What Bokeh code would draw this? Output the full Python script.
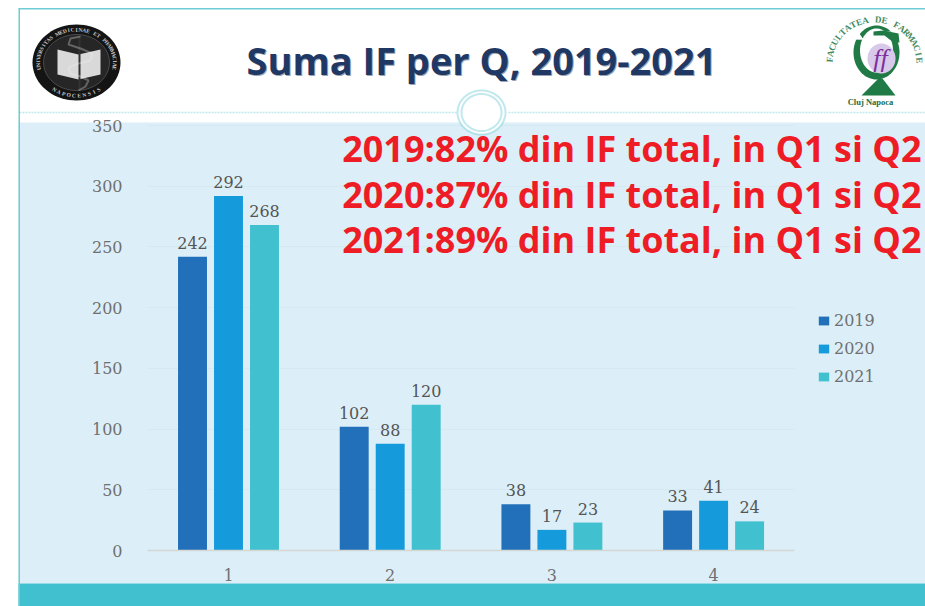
import numpy as np
from bokeh.plotting import figure
from bokeh.models import (Range1d, BoxAnnotation, PolyAnnotation, Label,
                          Legend, LegendItem, ColumnDataSource, FixedTicker)
from bokeh.core.properties import value
from bokeh.embed import file_html
from bokeh.resources import INLINE

quarters = [1, 2, 3, 4]
years = ["2019", "2020", "2021"]
v2019 = [242, 102, 38, 33]
v2020 = [292, 88, 17, 41]
v2021 = [268, 120, 23, 24]
colors = ["#2270BA", "#159BDB", "#41C0CF"]
y_ticks = [0, 50, 100, 150, 200, 250, 300, 350]
title_text = "Suma IF per Q, 2019-2021"
notes = ["2019:82% din IF total, in Q1 si Q2",
         "2020:87% din IF total, in Q1 si Q2",
         "2021:89% din IF total, in Q1 si Q2"]

W, H = 925, 606
SERIF = "DejaVu Serif"

# the plotting frame fills the whole slide, so the slide artwork can sit around the chart
ux = 161.7
uy = 425 / 350
x_start = 1 - 228 / ux
y_start = -(H - 550) / uy
p = figure(width=W, height=H, x_range=Range1d(x_start, x_start + W / ux),
           y_range=Range1d(y_start, y_start + H / uy), output_backend="svg", toolbar_location=None,
           min_border=0)
p.outline_line_color = None
p.background_fill_color = "white"
p.border_fill_color = "white"

def box(l, r, t, b, color):
    p.add_layout(BoxAnnotation(left=l, right=r, top=t, bottom=b,
                               left_units="canvas", right_units="canvas", top_units="canvas", bottom_units="canvas",
                               fill_color=color, fill_alpha=1, line_color=None, level="image"))

def poly(xs, ys, color, line=None, lw=1, level="image", dash="solid"):
    p.add_layout(PolyAnnotation(xs=list(xs), ys=list(ys), xs_units="canvas", ys_units="canvas",
                                fill_color=color, fill_alpha=1 if color else 0, line_color=line, line_width=lw,
                                line_dash=dash, level=level))

def ell(cx, cy, rx, ry, color, line=None, lw=1, level="image"):
    t = np.linspace(0, 2*np.pi, 73)
    poly(cx + rx*np.cos(t), cy + ry*np.sin(t), color, line, lw, level)

def label(x, y, text, size, color, font="Open Sans", style="normal", align="center", base="middle", angle=0):
    p.add_layout(Label(x=x, y=y, x_units="canvas", y_units="canvas", text=text, text_font=font,
                       text_font_size=f"{size}px", text_font_style=style, text_color=color,
                       text_align=align, text_baseline=base, angle=angle))

def arc_text(text, cx, cy, rx, ry, a0, a1, size, color, bottom=False):
    for i, ch in enumerate(text):
        a = np.radians(a0 + i * (a1 - a0) / (len(text) - 1))
        rot = a - np.pi / 2 if not bottom else a + np.pi / 2
        label(cx + rx * np.cos(a), cy - ry * np.sin(a), ch, size, color, "Liberation Serif", "bold", angle=rot)

# slide background
box(18, 925, 122, 583, "#DCEFF8")
box(18, 925, 583, 606, "#41C0CF")
box(18, 19.5, 8, 606, "#6FCBD6")
box(18, 925, 7.5, 9, "#6FCBD6")
for x0, x1 in [(19, 456), (508, 925)]:
    poly([x0, x1], [112, 112], None, "#2FB5C7", 1.5, dash="2 1")
ell(481, 112, 24, 22, "white", "#2FB3C4", 2, level="annotation")
ell(481, 112, 20, 18.5, "white", "#2FB3C4", 2, level="annotation")

# left logo
ell(76, 62, 44, 38, "#141414")
ell(76, 62, 33, 28, "#262626", "#B0B0B0", 1)
arc_text("UNIVERSITAS MEDICINAE ET PHARMACIAE", 76, 62, 38.5, 33, 190, -10, 5.5, "#C8C8C8")
arc_text("NAPOCENSIS", 76, 62, 38.5, 33, 235, 305, 5.5, "#C8C8C8", bottom=True)
poly([57, 78, 100, 100, 78, 57], [49, 54, 49, 74, 79, 74], "#D9D9D9")
poly([78, 80, 80, 78], [36, 36, 90, 90], "#333333")
sn_x = [80, 70, 68, 80, 92, 90, 78, 68, 70, 80, 88, 85, 78]
sn_y = [36, 38, 44, 48, 53, 60, 63, 67, 73, 76, 80, 86, 90]
poly(sn_x + sn_x[::-1], sn_y + sn_y[::-1], None, "#F2F2F2", 2)

# right logo
ell(876, 52, 23, 27, "#1F7A45")
ell(876, 50, 16.5, 22, "white")
poly([850, 850, 902, 902, 884, 863], [20, 39, 40, 31, 31, 39], "white")
poly([873, 883, 898, 899, 893, 884, 873], [31, 30, 33, 42, 42, 35, 35], "#1F7A45")
ell(881, 58, 14, 15, "#D8C9EA")
label(880, 58, "ff", 26, "#7E2F9B", "Liberation Serif", "italic")
poly([861, 895, 882, 878], [95, 95, 78, 78], "#1F7A45")
label(870, 101, "Cluj Napoca", 8.5, "#1F6B40", "Liberation Serif", "bold")
arc_text("FACULTATEA DE FARMACIE", 874, 62, 45, 43, 176, 3, 9, "#3F8A5B")

# bars
offsets = [-0.2226, 0, 0.2226]
items = []
for name, col, off, vals in zip(years, colors, offsets, [v2019, v2020, v2021]):
    src = ColumnDataSource(dict(x=[q + off for q in quarters], v=vals, t=[str(a) for a in vals]))
    r = p.vbar(x="x", top="v", width=0.179, source=src, fill_color=col, line_color=None)
    p.text(x="x", y="v", text="t", source=src, text_align="center", text_baseline="bottom", y_offset=-8,
           text_font=value(SERIF), text_font_size="16px", text_color="#555555")
    items.append(LegendItem(label=name, renderers=[r]))

# axes
LEFT, RIGHT = x_start + 147 / ux, x_start + 794 / ux
p.xaxis.fixed_location = 0
p.xaxis.bounds = (LEFT, RIGHT)
p.yaxis.fixed_location = LEFT
p.xaxis.ticker = FixedTicker(ticks=quarters)
p.yaxis.ticker = FixedTicker(ticks=y_ticks)
p.xgrid.grid_line_color = None
p.ygrid.ticker = FixedTicker(ticks=y_ticks)
p.ygrid.cross_bounds = (LEFT, RIGHT)
p.ygrid.grid_line_color = "#D6E8F0"
p.yaxis.axis_line_color = None
p.yaxis.major_tick_line_color = None
p.yaxis.minor_tick_line_color = None
p.xaxis.major_tick_line_color = None
p.xaxis.minor_tick_line_color = None
p.xaxis.axis_line_color = "#D4D6D2"
p.xaxis.axis_line_width = 1.5
for ax in (p.xaxis, p.yaxis):
    ax.major_label_text_font = SERIF
    ax.major_label_text_font_size = "16px"
    ax.major_label_text_color = "#707070"
p.yaxis.major_label_standoff = 18
p.yaxis.major_label_standoff = 19
p.xaxis.major_label_standoff = 12

legend = Legend(items=items, location=(817, 220), background_fill_alpha=0, border_line_color=None,
                glyph_width=13, glyph_height=11, spacing=9, margin=0, padding=0, label_standoff=4,
                label_text_font=SERIF, label_text_font_size="16px", label_text_color="#707070")
p.add_layout(legend, "center")

# texts
label(482, 60, title_text, 38, "#9AA5B5", "Open Sans", "bold")
label(481, 59, title_text, 38, "#1F3864", "Open Sans", "bold")
for yy, t in zip([148, 194, 239], notes):
    label(921, yy, t, 36, "#EE1C25", "Open Sans", "bold", align="right")

open("out.html", "w").write(file_html(p, INLINE))
